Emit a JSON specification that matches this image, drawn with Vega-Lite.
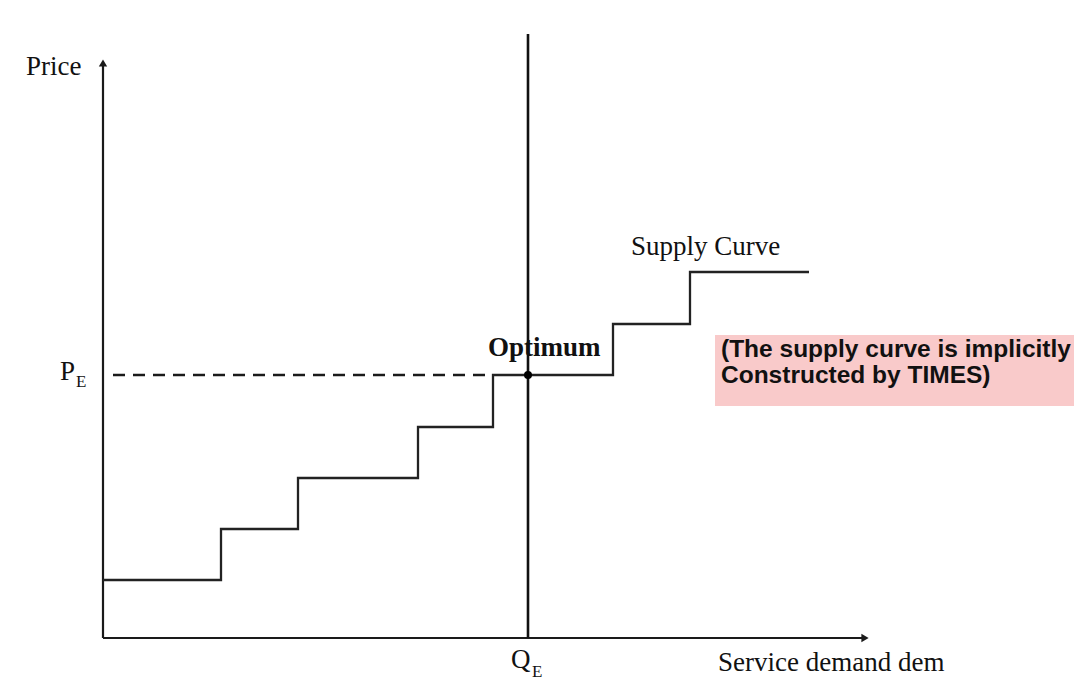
{
  "$schema": "https://vega.github.io/schema/vega-lite/v6.json",
  "width": 1074,
  "height": 683,
  "padding": 0,
  "autosize": {"type": "fit", "contains": "padding"},
  "background": "white",
  "config": {"view": {"stroke": null}},
  "layer": [
    {
      "data": {"values": [{"q0": 612, "q1": 971, "p0": 232, "p1": 303}]},
      "mark": {"type": "rect", "color": "#f9caca"},
      "encoding": {
        "x": {"field": "q0", "type": "quantitative", "scale": {"domain": [-103, 971], "nice": false, "zero": false}, "axis": null},
        "x2": {"field": "q1"},
        "y": {"field": "p0", "type": "quantitative", "scale": {"domain": [-45, 638], "nice": false, "zero": false}, "axis": null},
        "y2": {"field": "p1"}
      }
    },
    {
      "data": {"values": [
        {"name": "yaxis", "q0": 0, "p0": 0, "q1": 0, "p1": 572},
        {"name": "xaxis", "q0": 0, "p0": 0, "q1": 760, "p1": 0}
      ]},
      "mark": {"type": "rule", "color": "#1a1a1a", "strokeWidth": 2.2},
      "encoding": {
        "x": {"field": "q0", "type": "quantitative", "scale": {"domain": [-103, 971], "nice": false, "zero": false}, "axis": null},
        "x2": {"field": "q1"},
        "y": {"field": "p0", "type": "quantitative", "scale": {"domain": [-45, 638], "nice": false, "zero": false}, "axis": null},
        "y2": {"field": "p1"}
      }
    },
    {
      "data": {"values": [{"q": 425, "p0": 0, "p1": 604}]},
      "mark": {"type": "rule", "color": "#111111", "strokeWidth": 2.6},
      "encoding": {
        "x": {"field": "q", "type": "quantitative", "scale": {"domain": [-103, 971], "nice": false, "zero": false}, "axis": null},
        "y": {"field": "p0", "type": "quantitative", "scale": {"domain": [-45, 638], "nice": false, "zero": false}, "axis": null},
        "y2": {"field": "p1"}
      }
    },
    {
      "data": {"values": [{"q0": 10, "q1": 390, "p": 263}]},
      "mark": {"type": "rule", "color": "#1a1a1a", "strokeWidth": 2.5, "strokeDash": [12, 8]},
      "encoding": {
        "x": {"field": "q0", "type": "quantitative", "scale": {"domain": [-103, 971], "nice": false, "zero": false}, "axis": null},
        "x2": {"field": "q1"},
        "y": {"field": "p", "type": "quantitative", "scale": {"domain": [-45, 638], "nice": false, "zero": false}, "axis": null}
      }
    },
    {
      "data": {"values": [
        {"q": 0, "p": 58}, {"q": 118, "p": 109}, {"q": 195, "p": 160}, {"q": 315, "p": 211},
        {"q": 390, "p": 263}, {"q": 510, "p": 314}, {"q": 587, "p": 366}, {"q": 706, "p": 366}
      ]},
      "mark": {"type": "line", "interpolate": "step-after", "color": "#222222", "strokeWidth": 2.3},
      "encoding": {
        "x": {"field": "q", "type": "quantitative", "scale": {"domain": [-103, 971], "nice": false, "zero": false}, "axis": null},
        "y": {"field": "p", "type": "quantitative", "scale": {"domain": [-45, 638], "nice": false, "zero": false}, "axis": null}
      }
    },
    {
      "data": {"values": [{"q": 425, "p": 263}]},
      "mark": {"type": "point", "filled": true, "color": "#000000", "size": 64, "opacity": 1},
      "encoding": {
        "x": {"field": "q", "type": "quantitative", "scale": {"domain": [-103, 971], "nice": false, "zero": false}, "axis": null},
        "y": {"field": "p", "type": "quantitative", "scale": {"domain": [-45, 638], "nice": false, "zero": false}, "axis": null}
      }
    },
    {
      "data": {"values": [{"q": 0, "p": 575}]},
      "mark": {"type": "point", "filled": true, "shape": "triangle-up", "color": "#1a1a1a", "size": 70, "opacity": 1},
      "encoding": {
        "x": {"field": "q", "type": "quantitative", "scale": {"domain": [-103, 971], "nice": false, "zero": false}, "axis": null},
        "y": {"field": "p", "type": "quantitative", "scale": {"domain": [-45, 638], "nice": false, "zero": false}, "axis": null}
      }
    },
    {
      "data": {"values": [{"q": 762, "p": 0}]},
      "mark": {"type": "point", "filled": true, "shape": "triangle-right", "color": "#1a1a1a", "size": 70, "opacity": 1},
      "encoding": {
        "x": {"field": "q", "type": "quantitative", "scale": {"domain": [-103, 971], "nice": false, "zero": false}, "axis": null},
        "y": {"field": "p", "type": "quantitative", "scale": {"domain": [-45, 638], "nice": false, "zero": false}, "axis": null}
      }
    },
    {
      "data": {"values": [
        {"label": "Price", "q": -77, "p": 563},
        {"label": "P", "q": -43, "p": 258},
        {"label": "Q", "q": 408, "p": -30},
        {"label": "Service demand dem", "q": 615, "p": -33},
        {"label": "Supply Curve", "q": 528, "p": 383}
      ]},
      "mark": {"type": "text", "font": "Liberation Serif", "fontSize": 27, "align": "left", "baseline": "alphabetic", "color": "#111111"},
      "encoding": {
        "x": {"field": "q", "type": "quantitative", "scale": {"domain": [-103, 971], "nice": false, "zero": false}, "axis": null},
        "y": {"field": "p", "type": "quantitative", "scale": {"domain": [-45, 638], "nice": false, "zero": false}, "axis": null},
        "text": {"field": "label"}
      }
    },
    {
      "data": {"values": [
        {"label": "E", "q": -27, "p": 251},
        {"label": "E", "q": 429, "p": -39}
      ]},
      "mark": {"type": "text", "font": "Liberation Serif", "fontSize": 17, "align": "left", "baseline": "alphabetic", "color": "#111111"},
      "encoding": {
        "x": {"field": "q", "type": "quantitative", "scale": {"domain": [-103, 971], "nice": false, "zero": false}, "axis": null},
        "y": {"field": "p", "type": "quantitative", "scale": {"domain": [-45, 638], "nice": false, "zero": false}, "axis": null},
        "text": {"field": "label"}
      }
    },
    {
      "data": {"values": [{"label": "Optimum", "q": 385, "p": 282}]},
      "mark": {"type": "text", "font": "Liberation Serif", "fontSize": 27, "fontWeight": "bold", "align": "left", "baseline": "alphabetic", "color": "#111111"},
      "encoding": {
        "x": {"field": "q", "type": "quantitative", "scale": {"domain": [-103, 971], "nice": false, "zero": false}, "axis": null},
        "y": {"field": "p", "type": "quantitative", "scale": {"domain": [-45, 638], "nice": false, "zero": false}, "axis": null},
        "text": {"field": "label"}
      }
    },
    {
      "data": {"values": [
        {"label": "(The supply curve is implicitly", "q": 618, "p": 281},
        {"label": "Constructed by TIMES)", "q": 618, "p": 255}
      ]},
      "mark": {"type": "text", "font": "Liberation Sans", "fontSize": 24.5, "fontWeight": "bold", "align": "left", "baseline": "alphabetic", "color": "#111111"},
      "encoding": {
        "x": {"field": "q", "type": "quantitative", "scale": {"domain": [-103, 971], "nice": false, "zero": false}, "axis": null},
        "y": {"field": "p", "type": "quantitative", "scale": {"domain": [-45, 638], "nice": false, "zero": false}, "axis": null},
        "text": {"field": "label"}
      }
    }
  ]
}
